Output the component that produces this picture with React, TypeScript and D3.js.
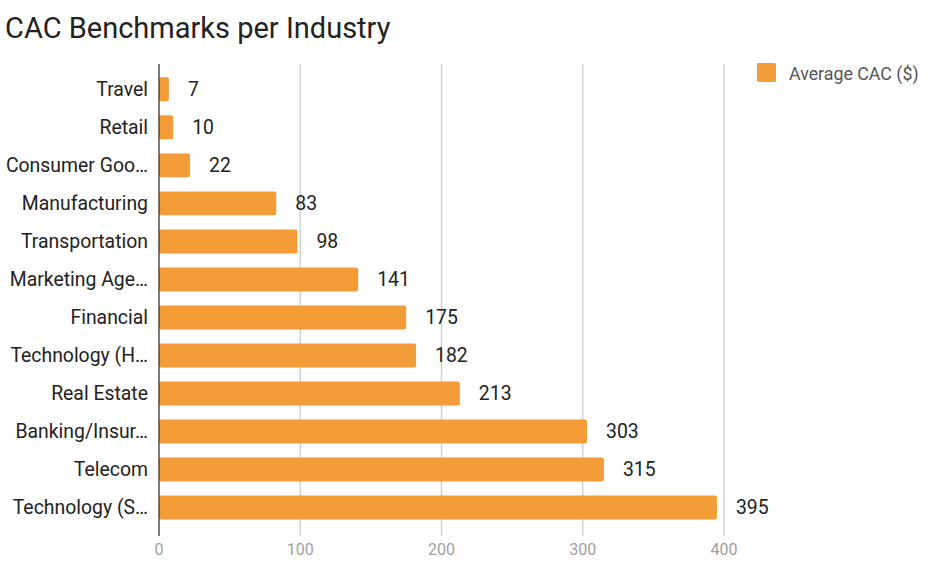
import React from "react";
import * as d3 from "d3";

const categories = [
  "Travel",
  "Retail",
  "Consumer Goo…",
  "Manufacturing",
  "Transportation",
  "Marketing Age…",
  "Financial",
  "Technology (H…",
  "Real Estate",
  "Banking/Insur…",
  "Telecom",
  "Technology (S…",
];
const values = [7, 10, 22, 83, 98, 141, 175, 182, 213, 303, 315, 395];
const ticks = [0, 100, 200, 300, 400];
const seriesName = "Average CAC ($)";
const title = "CAC Benchmarks per Industry";

export default function App() {
  const W = 940, H = 579;
  const left = 159, right = 724;
  const top = 70.3, bottom = 526.6;
  const x = d3.scaleLinear().domain([0, 400]).range([left, right]);
  const y = d3.scaleBand<string>().domain(categories).range([top, bottom]).paddingInner(0.37).paddingOuter(0.185);
  const font = "Roboto, 'Noto Sans', Arial, sans-serif";
  const color = "#F39C38";
  return (
    <svg width={W} height={H} style={{ position: "absolute", left: 0, top: 0, background: "#fff" }} fontFamily={font}>
      <text x={5} y={38} fontSize={29} fill="#222">{title}</text>
      {ticks.map((t) => (
        <g key={t}>
          {t !== 0 && <line x1={x(t)} x2={x(t)} y1={64} y2={536} stroke="#cccccc" strokeWidth={1.3} />}
          <text x={x(t)} y={555} fontSize={16} fill="#a0a0a0" textAnchor="middle">{t}</text>
        </g>
      ))}
      {categories.map((c, i) => {
        const yy = y(c)!;
        const bw = y.bandwidth();
        const cy = yy + bw / 2;
        return (
          <g key={c}>
            <rect x={x(0)} y={yy} width={x(values[i]) - x(0)} height={bw} fill={color} rx={2} />
            <text x={148} y={cy} fontSize={19.4} fill="#222" textAnchor="end" dominantBaseline="central">{c}</text>
            <text x={x(values[i]) + 19} y={cy} fontSize={19.4} fill="#222" dominantBaseline="central">{values[i]}</text>
          </g>
        );
      })}
      <line x1={x(0)} x2={x(0)} y1={64} y2={536} stroke="#333" strokeWidth={1.3} />
      <rect x={757} y={63} width={19} height={19} fill={color} rx={1.5} />
      <text x={789} y={73} fontSize={17.8} fill="#555" dominantBaseline="central">{seriesName}</text>
    </svg>
  );
}
